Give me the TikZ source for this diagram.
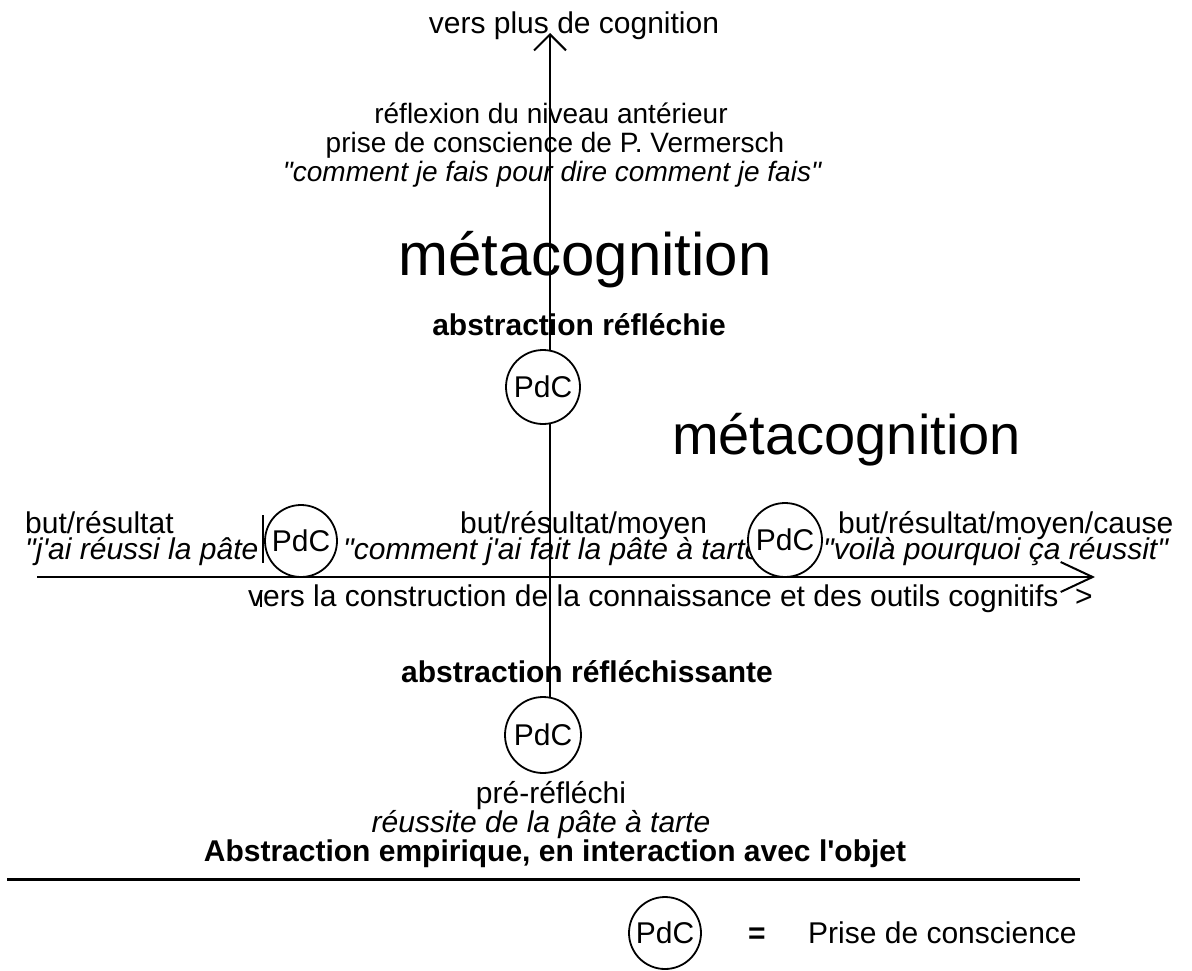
\documentclass[tikz,border=0pt]{standalone}
\usepackage{fontspec}
\setmainfont{Liberation Sans}[Ligatures=TeXOff]
\usetikzlibrary{arrows.meta}
\begin{document}
\begin{tikzpicture}[x=1pt,y=-1pt,
  txt/.style={inner sep=0pt, font=\fontsize{30}{32}\selectfont},
  ital/.style={txt, font=\fontsize{30}{32}\selectfont\itshape},
  bld/.style={txt, font=\fontsize{30}{32}\selectfont\bfseries},
  small/.style={inner sep=0pt, font=\fontsize{28}{30}\selectfont},
  big/.style={inner sep=0pt, font=\fontsize{60}{64}\selectfont},
  pdc/.style={circle, draw, fill=white, line width=1.8pt, inner sep=0pt,
    font=\fontsize{30}{32}\selectfont},
  axis/.style={line width=2pt},
]
\useasboundingbox (0,0) rectangle (1192,970);
\fill[white] (0,0) rectangle (1192,970);

% upper half: reflective levels
\node[txt, anchor=base] (up) at (574,33) {vers plus de cognition};
\node[small, anchor=base] (r1) at (551,123) {réflexion du niveau antérieur};
\node[small, anchor=base] (r2) at (555,152) {prise de conscience de P. Vermersch};
\node[small, anchor=base, font=\fontsize{28}{30}\selectfont\itshape] (r3) at (552,181) {"comment je fais pour dire comment je fais"};
\node[big, anchor=base west] (meta1) at (398,275) {métacognition};
\node[bld, anchor=base] (absr) at (579,335) {abstraction réfléchie};
\node[big, anchor=base west, font=\fontsize{56}{60}\selectfont] (meta2) at (672,454) {métacognition};

% row along the horizontal axis
\node[txt, anchor=base west] (h1a) at (25,533) {but/résultat};
\node[ital, anchor=base west] (h1b) at (25,559) {"j'ai réussi la pâte};
\node[txt, anchor=base west] (h2a) at (460,533) {but/résultat/moyen};
\node[ital, anchor=base west] (h2b) at (343,559) {"comment j'ai fait la pâte à tarte"};
\node[txt, anchor=base west] (h3a) at (838,533) {but/résultat/moyen/cause};
\node[ital, anchor=base west] (h3b) at (823,559) {"voilà pourquoi ça réussit"};
\node[txt, anchor=base west] (hx) at (248,606) {vers la construction de la connaissance et des outils cognitifs\ \ >};

% lower half
\node[bld, anchor=base] (absg) at (587,682) {abstraction réfléchissante};
\node[txt, anchor=base] (pre) at (551,803) {pré-réfléchi};
\node[ital, anchor=base] (reus) at (541,832) {réussite de la pâte à tarte};
\node[bld, anchor=base] (emp) at (555,861) {Abstraction empirique, en interaction avec l'objet};

% small text-box edges
\coordinate (b1t) at (263,515);
\coordinate (b1b) at (263,563);
\draw[line width=1.5pt] (b1t) -- (b1b);
\coordinate (b2t) at (261,590);
\coordinate (b2b) at (261,607);
\draw[line width=1.2pt] (b2t) -- (b2b);

% axes
\coordinate (hl) at (37,577);
\coordinate (hr) at (1095,577);
\draw[axis, -{Straight Barb[length=32pt, width=30pt, line width=2pt]}] (hl) -- (hr);
\coordinate (vb) at (550,735);
\coordinate (vt) at (550,33);
\draw[axis, -{Straight Barb[length=16pt, width=32pt, line width=2pt]}] (vb) -- (vt);

% separator
\coordinate (sl) at (7,879);
\coordinate (sr) at (1080,879);
\draw[line width=3pt] (sl) -- (sr);

% prises de conscience
\node[pdc, minimum size=74pt] (ptop) at (543,387) {PdC};
\node[pdc, minimum size=76pt] (pbot) at (543,735) {PdC};
\node[pdc, minimum size=72pt] (pleft) at (301,541) {PdC};
\node[pdc, minimum size=74pt] (pright) at (785,540) {PdC};

% legend
\node[pdc, minimum size=72pt] (pleg) at (665,933) {PdC};
\node[bld, anchor=base] (eq) at (757,943) {=};
\node[txt, anchor=base west] (legt) at (808,943) {Prise de conscience};
\end{tikzpicture}
\end{document}
